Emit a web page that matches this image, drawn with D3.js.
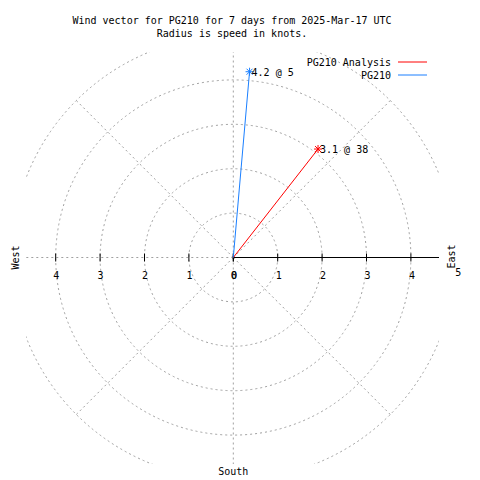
<!DOCTYPE html>
<html><head><meta charset="utf-8">
<script src="https://cdn.jsdelivr.net/npm/d3@7"></script>
<style>
html,body{margin:0;padding:0;background:#fff;}
text{font-family:"DejaVu Sans Mono","Liberation Mono",monospace;font-size:10px;fill:#000;}
</style></head>
<body>
<script>
// ---- data ----
const titleLines = ["Wind vector for PG210 for 7 days from 2025-Mar-17 UTC", "Radius is speed in knots."];
const seriesNames = ["PG210 Analysis", "PG210"];
const speeds = [3.1, 4.2];        // knots
const directions = [38, 5];       // degrees (compass)
const gridRadii = [1, 2, 3, 4, 5];
const gridAngles = [0, 45, 90, 135, 180, 225, 270, 315];
const westTicks = [4, 3, 2, 1, 0];
const eastTicks = [0, 1, 2, 3, 4, 5];
const compass = {west: "West", east: "East", south: "South"};

// ---- layout ----
const W = 480, H = 480;
const cx = 233.3, cy = 257.5;
const colors = ["#ff0000", "#1a7fff"];
const clip = {x0: 26, x1: 439, y0: 52, y1: 464};

const svg = d3.select("body").append("svg").attr("width", W).attr("height", H);
const r = d3.scaleLinear().domain([0, 5]).range([0, 222]);
const px = (spd, deg) => cx + r(spd) * Math.sin(deg * Math.PI / 180);
const py = (spd, deg) => cy - r(spd) * Math.cos(deg * Math.PI / 180);

svg.append("defs").append("clipPath").attr("id", "plotclip")
  .append("rect").attr("x", clip.x0).attr("y", clip.y0)
  .attr("width", clip.x1 - clip.x0).attr("height", clip.y1 - clip.y0);

const grid = svg.append("g").attr("clip-path", "url(#plotclip)")
  .attr("fill", "none").attr("stroke", "#a0a0a0").attr("stroke-width", 1)
  .attr("stroke-dasharray", "2,3");

grid.selectAll("circle").data(gridRadii).join("circle")
  .attr("cx", cx).attr("cy", cy).attr("r", d => r(d));
grid.selectAll("line").data(gridAngles).join("line")
  .attr("x1", cx).attr("y1", cy)
  .attr("x2", d => px(5, d)).attr("y2", d => py(5, d));

// axis (east side solid)
const axis = svg.append("g").attr("stroke", "#000").attr("stroke-width", 1);
axis.append("line").attr("x1", cx).attr("x2", clip.x1).attr("y1", cy).attr("y2", cy);
axis.selectAll("line.te").data(eastTicks.filter(d => d < 5)).join("line").attr("class", "te")
  .attr("x1", d => cx + r(d)).attr("x2", d => cx + r(d)).attr("y1", cy - 4).attr("y2", cy + 4);
axis.selectAll("line.tw").data(westTicks).join("line").attr("class", "tw")
  .attr("x1", d => cx - r(d)).attr("x2", d => cx - r(d)).attr("y1", cy - 4).attr("y2", cy + 4);

// tick labels
svg.selectAll("text.lw").data(westTicks).join("text").attr("class", "lw")
  .attr("x", d => cx - r(d) + 0.5).attr("y", cy + 21).attr("text-anchor", "middle").text(d => d);
svg.selectAll("text.le").data(eastTicks).join("text").attr("class", "le")
  .attr("x", d => cx + r(d) + (d === 5 ? 3 : 1)).attr("y", d => d === 5 ? cy + 18 : cy + 21)
  .attr("text-anchor", "middle").text(d => d);

// compass labels
svg.append("text").attr("transform", `translate(19,${cy}) rotate(-90)`)
  .attr("text-anchor", "middle").text(compass.west);
svg.append("text").attr("transform", `translate(455,${cy - 1}) rotate(-90)`)
  .attr("text-anchor", "middle").text(compass.east);
svg.append("text").attr("x", cx).attr("y", 475).attr("text-anchor", "middle").text(compass.south);

// title
svg.selectAll("text.title").data(titleLines).join("text").attr("class", "title")
  .attr("x", 232).attr("y", (d, i) => 24 + i * 12.7).attr("text-anchor", "middle").text(d => d);

// vectors
const vec = svg.append("g");
speeds.forEach((s, i) => {
  const d = directions[i];
  const x = px(s, d), y = py(s, d);
  const g = vec.append("g").attr("stroke", colors[i]).attr("stroke-width", 1);
  g.append("line").attr("x1", cx).attr("y1", cy).attr("x2", x).attr("y2", y);
  const k = 4;
  g.append("path").attr("d",
    `M${x - k},${y}H${x + k}M${x},${y - k}V${y + k}M${x - k + 1},${y - k + 1}L${x + k - 1},${y + k - 1}M${x - k + 1},${y + k - 1}L${x + k - 1},${y - k + 1}`);
  svg.append("text").attr("x", x + 2).attr("y", y + 4)
    .text(`${s.toFixed(1)} @ ${d}`);
});

// legend
seriesNames.forEach((n, i) => {
  const y = 62 + i * 13;
  svg.append("text").attr("x", 391).attr("y", y + 4).attr("text-anchor", "end").text(n);
  svg.append("line").attr("x1", 398).attr("x2", 427).attr("y1", y).attr("y2", y)
    .attr("stroke", colors[i]).attr("stroke-width", 1);
});
</script>
</body></html>
